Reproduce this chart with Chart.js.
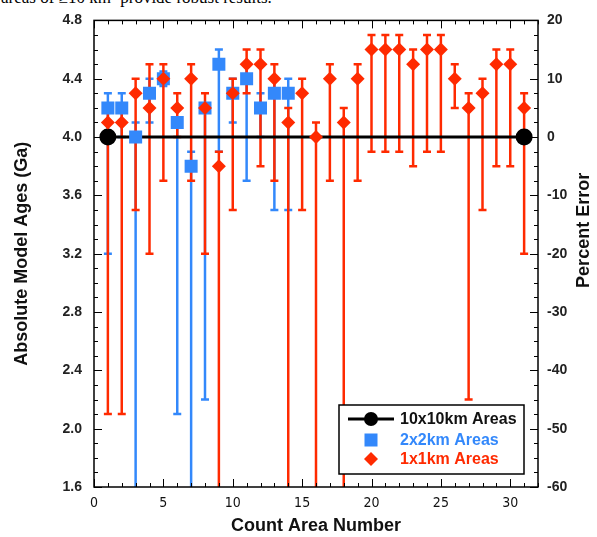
<!DOCTYPE html>
<html lang="en">
<head>
<meta charset="UTF-8">
<title>Absolute Model Ages by Count Area</title>
<style>
    body { margin: 0; background: #fff; overflow: hidden; }
    .wrap { position: relative; width: 597px; height: 537px; overflow: hidden; }
    .caption {
        position: absolute; left: 1px; top: -12px;
        font-family: 'Liberation Serif', serif; font-size: 17px;
        white-space: nowrap; color: #000;
    }
    canvas { position: absolute; left: 0; top: 0; }
</style>
<script src="https://cdn.jsdelivr.net/npm/chart.js@4"></script>
</head>
<body>
<div class="wrap">
    <div class="caption">areas of ≥10 km² provide robust results.</div>
    <canvas id="ageChart" width="597" height="537"></canvas>
</div>
<script>
// 10x10 km count areas
const areaBig = [1, 31];
const ageBig = [4.0, 4.0];

// 2x2 km count areas (age, upper and lower error ends)
const area2 = [1, 2, 3, 4, 5, 6, 7, 8, 9, 10, 11, 12, 13, 14];
const age2 = [4.2, 4.2, 4.0, 4.3, 4.4, 4.1, 3.8, 4.2, 4.5, 4.3, 4.4, 4.2, 4.3, 4.3];
const hi2  = [4.3, 4.3, 4.1, 4.4, 4.45, 4.1, 3.9, 4.2, 4.6, 4.4, 4.5, 4.3, 4.4, 4.4];
const lo2  = [3.2, 4.0, 1.5, 4.1, 4.35, 2.1, 1.5, 2.2, 3.9, 4.1, 3.7, 4.0, 3.5, 3.5];

// 1x1 km count areas
const area1 = [1, 2, 3, 4, 5, 6, 7, 8, 9, 10, 11, 12, 13, 14, 15, 16, 17, 18, 19, 20,
               21, 22, 23, 24, 25, 26, 27, 28, 29, 30, 31];
const age1 = [4.1, 4.1, 4.3, 4.2, 4.4, 4.2, 4.4, 4.2, 3.8, 4.3, 4.5, 4.5, 4.4, 4.1, 4.3, 4.0,
              4.4, 4.1, 4.4, 4.6, 4.6, 4.6, 4.5, 4.6, 4.6, 4.4, 4.2, 4.3, 4.5, 4.5, 4.2];
const hi1  = [4.2, 4.2, 4.4, 4.5, 4.5, 4.3, 4.5, 4.3, 3.9, 4.4, 4.6, 4.6, 4.5, 4.2, 4.4, 4.1,
              4.5, 4.2, 4.5, 4.7, 4.7, 4.7, 4.6, 4.7, 4.7, 4.5, 4.3, 4.4, 4.6, 4.6, 4.3];
const lo1  = [2.1, 2.1, 3.5, 3.2, 3.7, 4.0, 3.7, 3.2, 1.5, 3.5, 4.3, 3.8, 3.7, 1.5, 3.5, 1.5,
              3.7, 1.5, 3.7, 3.9, 3.9, 3.9, 3.8, 3.9, 3.9, 4.2, 2.2, 3.5, 3.8, 3.8, 3.2];

const xTicks = [0, 5, 10, 15, 20, 25, 30];
const legendNames = ['10x10km Areas', '2x2km Areas', '1x1km Areas'];

const BLUE = '#3388fb';
const RED = '#ff2a00';
const SANS = "'Liberation Sans', Arial, sans-serif";

const toPoints = (xs, ys) => xs.map((x, i) => ({ x: x, y: ys[i] }));

// error bars, drawn below the markers and clipped to the plot area
const errorBars = {
    id: 'errorBars',
    beforeDatasetsDraw(chart) {
        const ctx = chart.ctx, a = chart.chartArea;
        const sx = chart.scales.x, sy = chart.scales.y;
        ctx.save();
        ctx.beginPath();
        ctx.rect(a.left, a.top, a.right - a.left, a.bottom - a.top);
        ctx.clip();
        ctx.lineWidth = 2.5;
        const bars = (xs, hs, ls, color) => {
            ctx.strokeStyle = color;
            xs.forEach((v, i) => {
                const px = sx.getPixelForValue(v);
                const top = sy.getPixelForValue(hs[i]);
                const bot = sy.getPixelForValue(ls[i]);
                ctx.beginPath();
                ctx.moveTo(px, top); ctx.lineTo(px, bot);
                ctx.moveTo(px - 4, top); ctx.lineTo(px + 4, top);
                ctx.moveTo(px - 4, bot); ctx.lineTo(px + 4, bot);
                ctx.stroke();
            });
        };
        bars(area2, hi2, lo2, BLUE);
        bars(area1, hi1, lo1, RED);
        ctx.restore();
    }
};

// frame, inward ticks, legend box and right axis title
const frameAndLegend = {
    id: 'frameAndLegend',
    afterDraw(chart) {
        const ctx = chart.ctx, a = chart.chartArea;
        const sx = chart.scales.x, sy = chart.scales.y, sy2 = chart.scales.y2;
        ctx.save();

        // legend
        const lx = a.right - 199, ly = a.bottom - 82, lw = 185, lh = 69;
        ctx.fillStyle = '#fff';
        ctx.fillRect(lx, ly, lw, lh);
        ctx.strokeStyle = '#000';
        ctx.lineWidth = 1.5;
        ctx.strokeRect(lx, ly, lw, lh);
        const mx = lx + 32;
        const rows = [ly + 14, ly + 35, ly + 54];
        ctx.lineWidth = 3;
        ctx.beginPath();
        ctx.moveTo(lx + 9, rows[0]); ctx.lineTo(lx + 55, rows[0]);
        ctx.stroke();
        ctx.fillStyle = '#000';
        ctx.beginPath(); ctx.arc(mx, rows[0], 7, 0, Math.PI * 2); ctx.fill();
        ctx.fillStyle = BLUE;
        ctx.fillRect(mx - 6.5, rows[1] - 6.5, 13, 13);
        ctx.fillStyle = RED;
        ctx.beginPath();
        ctx.moveTo(mx, rows[2] - 7); ctx.lineTo(mx + 7, rows[2]);
        ctx.lineTo(mx, rows[2] + 7); ctx.lineTo(mx - 7, rows[2]);
        ctx.closePath(); ctx.fill();
        ctx.font = 'bold 16px ' + SANS;
        ctx.textBaseline = 'middle';
        ctx.textAlign = 'left';
        [ '#111', BLUE, RED ].forEach((c, i) => {
            ctx.fillStyle = c;
            ctx.fillText(legendNames[i], lx + 61, rows[i] + 1);
        });

        // frame
        ctx.strokeStyle = '#000';
        ctx.lineWidth = 1.5;
        ctx.strokeRect(a.left, a.top, a.right - a.left, a.bottom - a.top);

        // ticks
        ctx.lineWidth = 1;
        ctx.beginPath();
        for (let v = 0; v <= 32; v++) {
            const len = v % 5 === 0 ? 8 : 4;
            const px = Math.round(sx.getPixelForValue(v)) + 0.5;
            ctx.moveTo(px, a.bottom); ctx.lineTo(px, a.bottom - len);
            ctx.moveTo(px, a.top); ctx.lineTo(px, a.top + len);
        }
        for (let k = 16; k <= 48; k++) {
            const len = (k - 16) % 4 === 0 ? 8 : 4;
            const py = Math.round(sy.getPixelForValue(k / 10)) + 0.5;
            ctx.moveTo(a.left, py); ctx.lineTo(a.left + len, py);
        }
        for (let p = -60; p <= 20; p += 2.5) {
            const len = p % 10 === 0 ? 8 : 4;
            const py = Math.round(sy2.getPixelForValue(p)) + 0.5;
            ctx.moveTo(a.right, py); ctx.lineTo(a.right - len, py);
        }
        ctx.stroke();

        // right axis title, reading bottom to top
        ctx.fillStyle = '#111';
        ctx.font = 'bold 18px ' + SANS;
        ctx.textAlign = 'center';
        ctx.textBaseline = 'middle';
        ctx.translate(584, a.top + (a.bottom - a.top) * 0.45);
        ctx.rotate(-Math.PI / 2);
        ctx.fillText('Percent Error', 0, 0);
        ctx.restore();
    }
};

new Chart(document.getElementById('ageChart'), {
    type: 'scatter',
    data: {
        datasets: [
            {
                label: legendNames[0],
                data: toPoints(areaBig, ageBig),
                showLine: true,
                borderColor: '#000',
                backgroundColor: '#000',
                borderWidth: 3,
                pointRadius: 7,
                order: 3
            },
            {
                label: legendNames[1],
                data: toPoints(area2, age2),
                pointStyle: 'rect',
                pointRadius: 9.2,
                backgroundColor: BLUE,
                borderWidth: 0,
                order: 2
            },
            {
                label: legendNames[2],
                data: toPoints(area1, age1),
                pointStyle: 'rectRot',
                pointRadius: 7,
                backgroundColor: RED,
                borderWidth: 0,
                order: 1
            }
        ]
    },
    options: {
        responsive: false,
        animation: false,
        devicePixelRatio: 1,
        layout: { padding: { top: 17, left: 0, right: 0, bottom: 0 } },
        plugins: {
            legend: { display: false },
            tooltip: { enabled: false }
        },
        scales: {
            x: {
                type: 'linear',
                min: 0,
                max: 32,
                afterFit(scale) { scale.height = 50; },
                afterBuildTicks(scale) { scale.ticks = xTicks.map(v => ({ value: v })); },
                grid: { display: false, drawTicks: false },
                border: { display: false },
                ticks: {
                    padding: 8,
                    color: '#111',
                    maxRotation: 0,
                    font: { family: "'Liberation Sans Narrow', 'DejaVu Sans Condensed', sans-serif", size: 14 }
                },
                title: {
                    display: true,
                    text: 'Count Area Number',
                    color: '#111',
                    padding: { top: 0, bottom: 0 },
                    font: { family: SANS, size: 18, weight: 'bold' }
                }
            },
            y: {
                position: 'left',
                min: 1.6,
                max: 4.8,
                afterFit(scale) { scale.width = 94; },
                grid: { display: false, drawTicks: false },
                border: { display: false },
                ticks: {
                    stepSize: 0.4,
                    padding: 12,
                    color: '#222',
                    font: { family: SANS, size: 14, weight: 'bold' },
                    callback: v => v.toFixed(1)
                },
                title: {
                    display: true,
                    text: 'Absolute Model Ages (Ga)',
                    color: '#111',
                    padding: { top: 11, bottom: 0 },
                    font: { family: SANS, size: 18, weight: 'bold' }
                }
            },
            y2: {
                position: 'right',
                min: -60,
                max: 20,
                afterFit(scale) { scale.width = 59; },
                grid: { display: false, drawTicks: false },
                border: { display: false },
                ticks: {
                    stepSize: 10,
                    padding: 9,
                    color: '#222',
                    font: { family: SANS, size: 14, weight: 'bold' }
                }
            }
        }
    },
    plugins: [errorBars, frameAndLegend]
});
</script>
</body>
</html>
